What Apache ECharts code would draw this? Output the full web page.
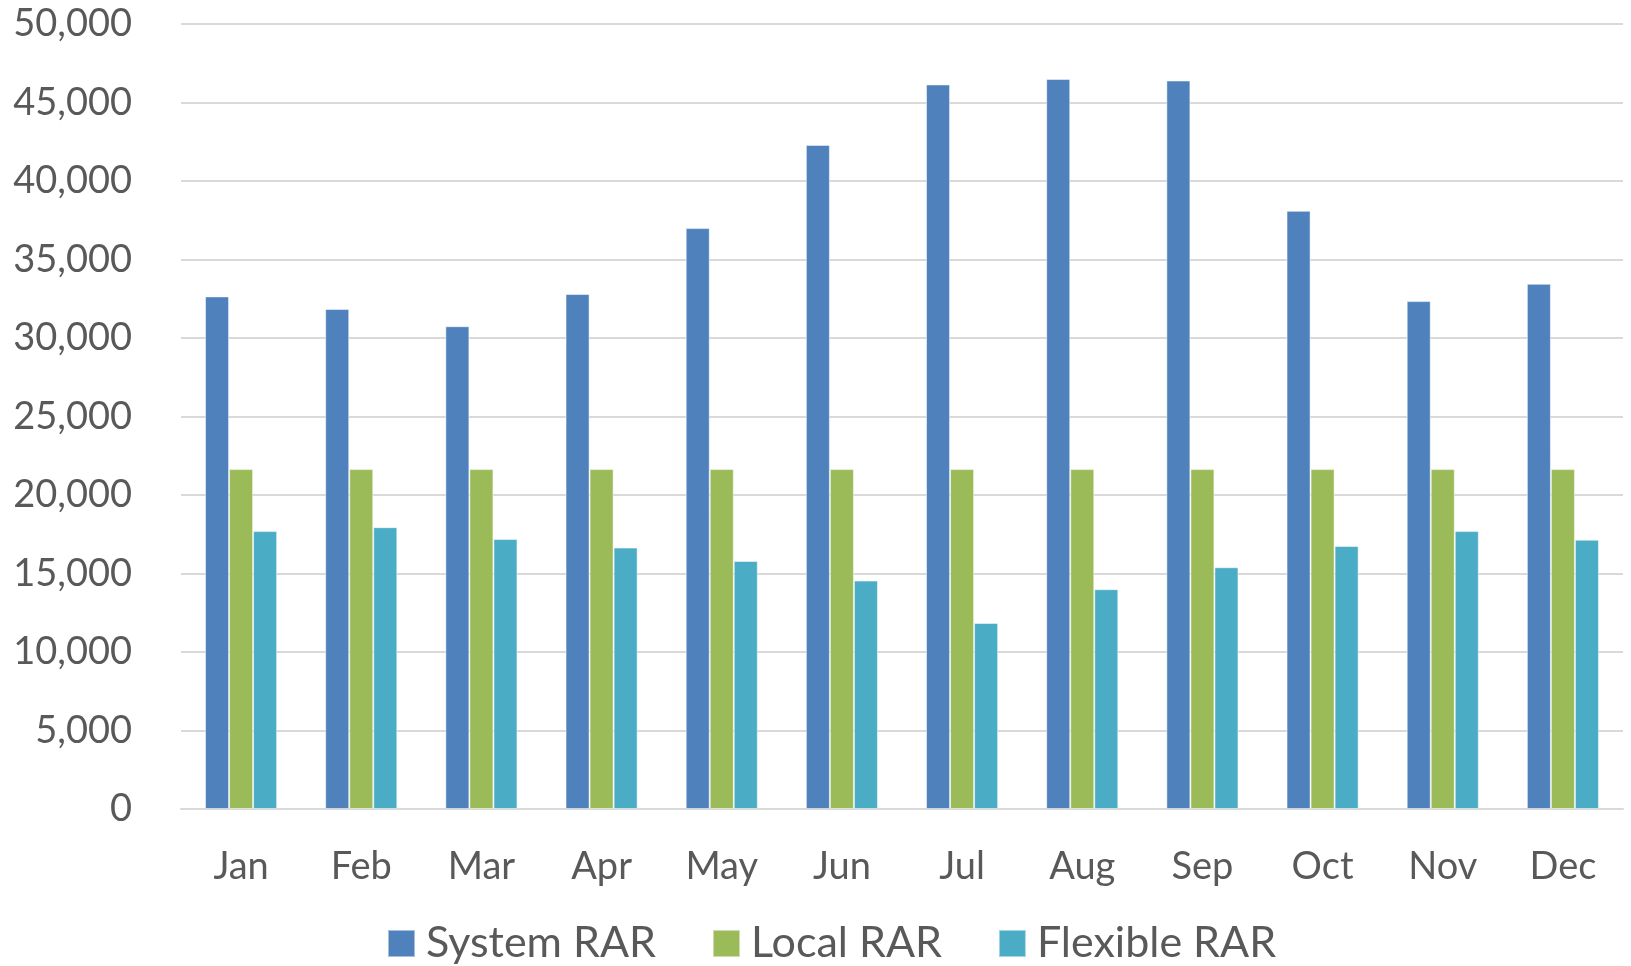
<!DOCTYPE html>
<html>
<head>
<meta charset="utf-8">
<title>RAR by month</title>
<script src="https://cdn.jsdelivr.net/npm/echarts@6/dist/echarts.min.js"></script>
<style>
  html, body { margin: 0; padding: 0; background: #ffffff; }
  #chart { width: 1631px; height: 966px; }
</style>
</head>
<body>
<div id="chart"></div>
<script>
// Monthly resource adequacy requirements (MW)
const months = ['Jan', 'Feb', 'Mar', 'Apr', 'May', 'Jun', 'Jul', 'Aug', 'Sep', 'Oct', 'Nov', 'Dec'];
const systemRAR = [32650, 31850, 30750, 32800, 37000, 42300, 46150, 46500, 46400, 38100, 32350, 33450];
const localRAR = [21650, 21650, 21650, 21650, 21650, 21650, 21650, 21650, 21650, 21650, 21650, 21650];
const flexibleRAR = [17700, 17950, 17200, 16650, 15800, 14550, 11850, 14000, 15400, 16750, 17700, 17150];

const seriesNames = ['System RAR', 'Local RAR', 'Flexible RAR'];
const seriesColors = ['#4F81BD', '#9BBB59', '#4BACC6'];
const seriesData = [systemRAR, localRAR, flexibleRAR];

const textColor = '#595959';
const fontFamily = 'Lato, "Open Sans", sans-serif';

const chart = echarts.init(document.getElementById('chart'), null, { renderer: 'canvas' });

chart.setOption({
  animation: false,
  backgroundColor: '#ffffff',
  grid: { left: 181, right: 8, top: 24, bottom: 157, containLabel: false },
  legend: {
    left: 387,
    top: 922,
    padding: 0,
    itemWidth: 27,
    itemHeight: 27,
    itemGap: 56,
    icon: 'rect',
    data: seriesNames,
    textStyle: { color: textColor, fontSize: 43, fontFamily: fontFamily, padding: [0, 0, 0, 6] }
  },
  xAxis: {
    type: 'category',
    data: months,
    axisTick: { show: false },
    axisLine: { show: true, lineStyle: { color: '#d9d9d9', width: 2 } },
    axisLabel: { color: textColor, fontSize: 38, fontFamily: fontFamily, margin: 39 }
  },
  yAxis: {
    type: 'value',
    min: 0,
    max: 50000,
    interval: 5000,
    axisLine: { show: false },
    axisTick: { show: false },
    splitLine: { lineStyle: { color: '#d9d9d9', width: 2 } },
    axisLabel: {
      color: textColor,
      fontSize: 38,
      fontFamily: fontFamily,
      margin: 49,
      formatter: v => v.toLocaleString('en-US')
    }
  },
  series: seriesNames.map((name, i) => ({
    name: name,
    type: 'bar',
    data: seriesData[i],
    barGap: '0%',
    barCategoryGap: '40%',
    itemStyle: {
      color: seriesColors[i],
      borderColor: 'rgba(255,255,255,0.5)',
      borderWidth: 1
    }
  }))
});
</script>
</body>
</html>
